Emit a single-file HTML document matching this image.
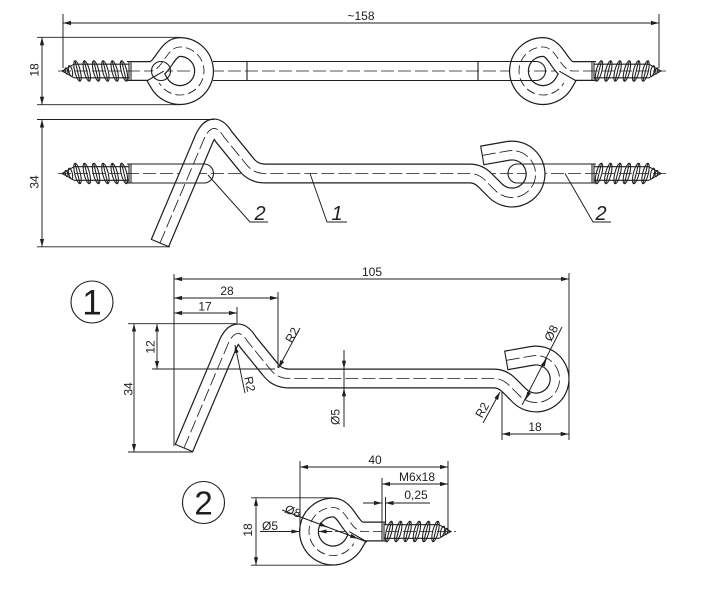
<!DOCTYPE html>
<html><head><meta charset="utf-8"><style>
html,body{margin:0;padding:0;background:#fff;}
svg{display:block;}
text{font-family:"Liberation Sans",Arial,sans-serif;font-size:12px;fill:#1e1e1e;}
.it{font-style:italic;font-size:20px;}
</style></head><body>
<svg width="704" height="602" viewBox="0 0 704 602" xmlns="http://www.w3.org/2000/svg" xmlns:xlink="http://www.w3.org/1999/xlink">
<defs>
<marker id="ar" viewBox="0 0 8 5" refX="8" refY="2.5" markerWidth="8" markerHeight="5" markerUnits="userSpaceOnUse" orient="auto-start-reverse"><path d="M0,0.4 L8,2.5 L0,4.6 z" fill="#1e1e1e"/></marker>
<g id="screw" fill="none" stroke="#1e1e1e" stroke-width="1.05">
 <path d="M0,-9.5 V9.5 M2,-9.5 V9.5 M0,-9.5 H4 M0,9.5 H4 M2,-6.8 H57 M2,6.8 H57 M57,-6.8 L66,-1.6 M57,6.8 L66,1.6 L69,0 L66,-1.6"/>
 <ellipse cx="7" cy="0" rx="2.8" ry="10.5" transform="rotate(14 7 0)"/>
 <ellipse cx="16.3" cy="0" rx="2.8" ry="10.5" transform="rotate(14 16.3 0)"/>
 <ellipse cx="25.6" cy="0" rx="2.8" ry="10.5" transform="rotate(14 25.6 0)"/>
 <ellipse cx="34.9" cy="0" rx="2.8" ry="10.5" transform="rotate(14 34.9 0)"/>
 <ellipse cx="44.2" cy="0" rx="2.8" ry="10.5" transform="rotate(14 44.2 0)"/>
 <ellipse cx="53.5" cy="0" rx="2.8" ry="10.5" transform="rotate(14 53.5 0)"/>
 <ellipse cx="60.5" cy="0" rx="1.8" ry="5.5" transform="rotate(14 60.5 0)"/>
 <ellipse cx="64.5" cy="0" rx="1.2" ry="3.2" transform="rotate(14 64.5 0)"/>
 <path d="M4.5,10.1 L9.5,-10.1 M13.8,10.1 L18.8,-10.1 M23.1,10.1 L28.1,-10.1 M32.4,10.1 L37.4,-10.1 M41.7,10.1 L46.7,-10.1 M51,10.1 L56,-10.1"/>
</g>
<g id="eye">
 <path d="M49,0 L30,0 C17,0 14,-24 0,-24 A24,24 0 1 0 20.78,12 L24.8,5.1" fill="none" stroke="#1e1e1e" stroke-width="20"/>
 <path d="M49,0 L30,0 C17,0 14,-24 0,-24 A24,24 0 1 0 20.78,12 L24.8,5.1" fill="none" stroke="#fff" stroke-width="17.6"/>
 <path d="M16.3,0.2 L33.3,10" stroke="#1e1e1e" fill="none" stroke-width="1.1"/>
 <path d="M49,0 L30,0 C17,0 14,-24 0,-24 A24,24 0 1 0 20.78,12" fill="none" stroke="#1e1e1e" stroke-width="0.85" stroke-dasharray="9 4"/>
 <use xlink:href="#screw" x="49" y="0"/>
</g>
<g id="hook">
 <path d="M160,243 L204,139 Q213,119 224,137 L246,164 Q253,173.5 265,173.5 L470,173.5 Q478.3,173.5 485,180.2 L495.4,190.6 A23.5,23.5 0 1 0 507.9,150.9 L482.3,155.4" fill="none" stroke="#1e1e1e" stroke-width="20" stroke-linejoin="round"/>
 <path d="M160,243 L204,139 Q213,119 224,137 L246,164 Q253,173.5 265,173.5 L470,173.5 Q478.3,173.5 485,180.2 L495.4,190.6 A23.5,23.5 0 1 0 507.9,150.9 L482.3,155.4" fill="none" stroke="#fff" stroke-width="17.6" stroke-linejoin="round"/>
 <path d="M150.8,239.1 L169.2,246.9 M480.6,145.6 L484,165.2" stroke="#1e1e1e" fill="none" stroke-width="1.1"/>
 <path d="M160,243 L204,139 Q213,119 224,137 L246,164 Q253,173.5 265,173.5 L470,173.5 Q478.3,173.5 485,180.2 L495.4,190.6 A23.5,23.5 0 1 0 507.9,150.9 L482.3,155.4" fill="none" stroke="#1e1e1e" stroke-width="0.85" stroke-dasharray="13 4"/>
</g>
</defs>

<g fill="none" stroke="#1e1e1e" stroke-width="1.1">
<!-- ============ TOP VIEW ============ -->
<path d="M58,71 H666" stroke-width="0.85" stroke-dasharray="13 4"/>
<use xlink:href="#eye" transform="translate(180,71) scale(-1,1)"/>
<use xlink:href="#eye" transform="translate(543,71)"/>
<path d="M213,61.5 H536 A9.5,9.5 0 0 1 536,80.5 H213"/>
<circle cx="161" cy="71" r="9.5"/>
<path d="M247,61.5 V80.5 M478,61.5 V80.5"/>
<path d="M63,14 V68 M659,14 V68" stroke-width="0.95"/>
<path d="M63,23 H659" stroke-width="0.95" marker-start="url(#ar)" marker-end="url(#ar)"/>
<path d="M37,37.3 H180 M37,104.7 H180" stroke-width="0.95"/>
<path d="M42,37.3 V104.7" stroke-width="0.95" marker-start="url(#ar)" marker-end="url(#ar)"/>

<!-- ============ SIDE VIEW ============ -->
<path d="M58,173.5 H666" stroke-width="0.85" stroke-dasharray="13 4"/>
<use xlink:href="#hook"/>
<path d="M131,164 H204 A9.5,9.5 0 0 1 204,183 H131"/>
<use xlink:href="#screw" transform="translate(131,173.5) scale(-1,1)"/>
<path d="M592,164 H517.5 A9.5,9.5 0 0 0 517.5,183 H592"/>
<use xlink:href="#screw" transform="translate(592,173.5)"/>
<path d="M37,119.5 H214 M37,246.8 H170" stroke-width="0.95"/>
<path d="M42,119.5 V246.8" stroke-width="0.95" marker-start="url(#ar)" marker-end="url(#ar)"/>
<path d="M208,175 L250,222 H268 M310,173.5 L327,222 H347 M565,173.5 L593,222 H611" stroke-width="0.95"/>

<!-- ============ PART 1 ============ -->
<circle cx="92" cy="302" r="21" stroke-width="1.1"/>
<use xlink:href="#hook" transform="translate(24,205)"/>
<path d="M174,274 V446 M569,273 V440 M278,292 V368 M237,307 V323 M128,323.7 H237 M152,369 H275 M128,452 H193 M502,392 V440" stroke-width="0.95"/>
<path d="M174,279 H569" stroke-width="0.95" marker-start="url(#ar)" marker-end="url(#ar)"/>
<path d="M174,298 H278" stroke-width="0.95" marker-start="url(#ar)" marker-end="url(#ar)"/>
<path d="M174,313 H237" stroke-width="0.95" marker-start="url(#ar)" marker-end="url(#ar)"/>
<path d="M157,323.7 V369" stroke-width="0.95" marker-start="url(#ar)" marker-end="url(#ar)"/>
<path d="M134,323.7 V452" stroke-width="0.95" marker-start="url(#ar)" marker-end="url(#ar)"/>
<path d="M300,328 L278.5,368" stroke-width="0.95" marker-end="url(#ar)"/>
<path d="M245,393 L235,345" stroke-width="0.95" marker-end="url(#ar)"/>
<path d="M344,350 V427" stroke-width="0.95"/>
<path d="M344,355 V368.7" stroke-width="0.95" marker-end="url(#ar)"/>
<path d="M344,402 V388.3" stroke-width="0.95" marker-end="url(#ar)"/>
<path d="M522,405 L562,327" stroke-width="0.95"/>
<path d="M542,367.4 L546.5,358.6" stroke-width="0.95" marker-end="url(#ar)"/>
<path d="M530,390.8 L525.5,399.6" stroke-width="0.95" marker-end="url(#ar)"/>
<path d="M483,423 L500,392" stroke-width="0.95" marker-end="url(#ar)"/>
<path d="M502,434 H568.7" stroke-width="0.95" marker-start="url(#ar)" marker-end="url(#ar)"/>

<!-- ============ PART 2 ============ -->
<circle cx="203.5" cy="502.5" r="21" stroke-width="1.1"/>
<path d="M318,531.5 H456" stroke-width="0.85" stroke-dasharray="13 4"/>
<use xlink:href="#eye" transform="translate(333,531.5)"/>
<path d="M300,461 V531 M448,461 V531 M382,478 V525 M385.5,497 V525 M251,497.8 H333 M251,565.2 H333" stroke-width="0.95"/>
<path d="M300,467 H448" stroke-width="0.95" marker-start="url(#ar)" marker-end="url(#ar)"/>
<path d="M382,484 H448" stroke-width="0.95" marker-start="url(#ar)" marker-end="url(#ar)"/>
<path d="M363,503 H382" stroke-width="0.95" marker-end="url(#ar)"/>
<path d="M430,503 H385.5" stroke-width="0.95" marker-end="url(#ar)"/>
<path d="M256,497.8 V565.2" stroke-width="0.95" marker-start="url(#ar)" marker-end="url(#ar)"/>
<path d="M260,531.5 H299.3" stroke-width="0.95" marker-end="url(#ar)"/>
<path d="M332,531.5 H318.7" stroke-width="0.95" marker-end="url(#ar)"/>
<path d="M282,510 L367,542" stroke-width="0.95"/>
<path d="M320,524.3 L327,526.9" stroke-width="0.95" marker-end="url(#ar)"/>
<path d="M351,536 L358,538.6" stroke-width="0.95" marker-end="url(#ar)"/>
</g>

<!-- ============ TEXT ============ -->
<text x="361" y="20" text-anchor="middle">~158</text>
<text transform="translate(34,70) rotate(-90)" y="4.3" text-anchor="middle">18</text>
<text transform="translate(34,182) rotate(-90)" y="4.3" text-anchor="middle">34</text>
<text class="it" x="260" y="220" text-anchor="middle">2</text>
<text class="it" x="337" y="220" text-anchor="middle">1</text>
<text class="it" x="601" y="220" text-anchor="middle">2</text>

<text x="92" y="314.5" text-anchor="middle" style="font-size:35px">1</text>
<text x="372" y="276" text-anchor="middle">105</text>
<text x="227" y="295" text-anchor="middle">28</text>
<text x="205" y="310.5" text-anchor="middle">17</text>
<text transform="translate(150,347) rotate(-90)" y="4.3" text-anchor="middle">12</text>
<text transform="translate(128,389) rotate(-90)" y="4.3" text-anchor="middle">34</text>
<text transform="translate(292,335) rotate(-61)" y="4.3" text-anchor="middle">R2</text>
<text transform="translate(250,384) rotate(78)" y="4.3" text-anchor="middle">R2</text>
<text transform="translate(335,417) rotate(-90)" y="4.3" text-anchor="middle">Ø5</text>
<text transform="translate(551,333) rotate(-63)" y="4.3" text-anchor="middle">Ø8</text>
<text transform="translate(482,410) rotate(-61)" y="4.3" text-anchor="middle">R2</text>
<text x="535" y="431" text-anchor="middle">18</text>

<text x="203.5" y="514.5" text-anchor="middle" style="font-size:33px">2</text>
<text x="375" y="464" text-anchor="middle">40</text>
<text x="417" y="481" text-anchor="middle">M6x18</text>
<text x="416" y="499" text-anchor="middle">0,25</text>
<text transform="translate(247.5,530) rotate(-90)" y="4.3" text-anchor="middle">18</text>
<text x="270" y="530" text-anchor="middle">Ø5</text>
<text transform="translate(293,511) rotate(20.6)" y="4.3" text-anchor="middle">Ø8</text>
</svg>
</body></html>
